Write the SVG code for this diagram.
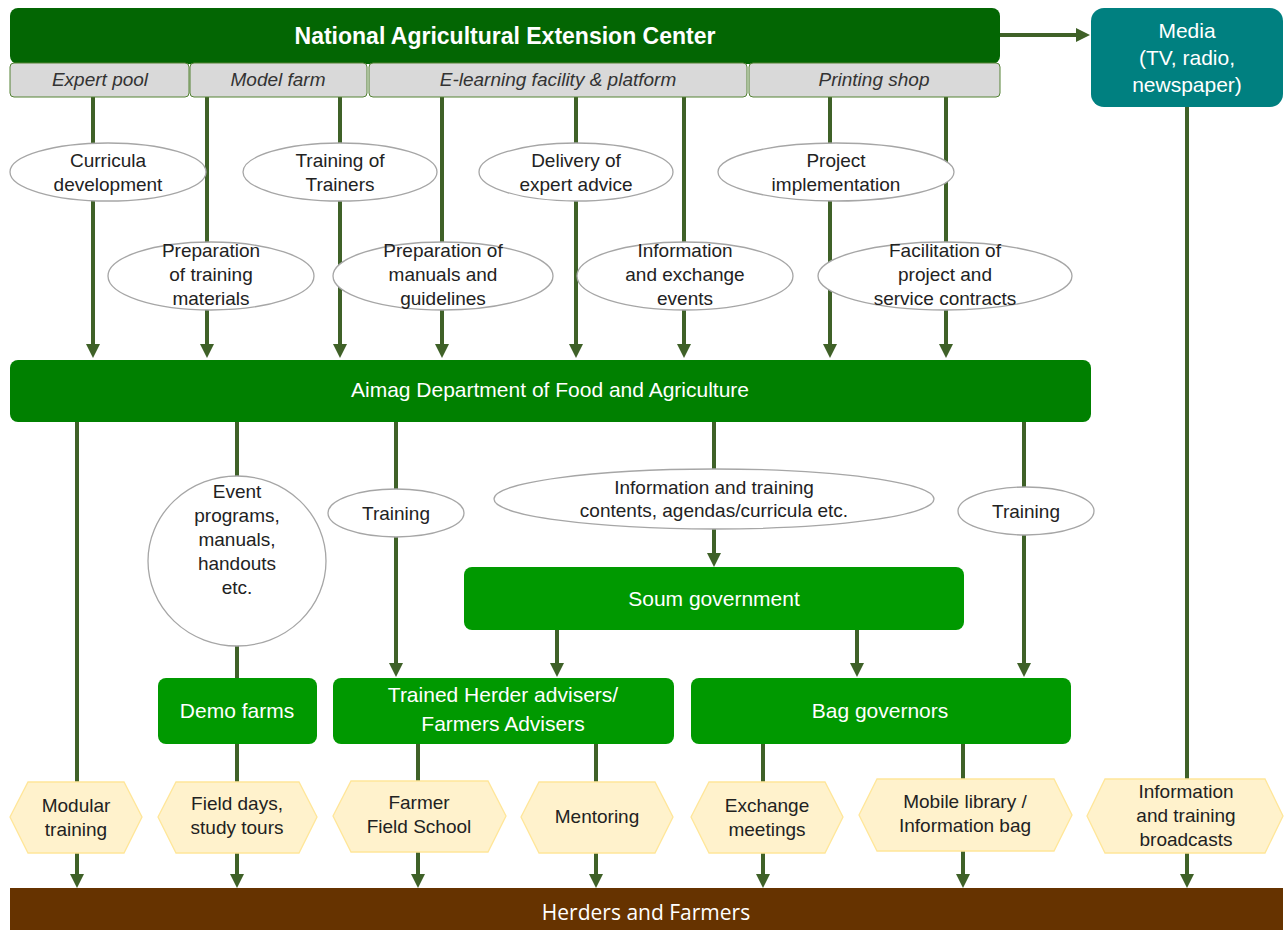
<svg xmlns="http://www.w3.org/2000/svg" width="1288" height="930" viewBox="0 0 1288 930">
<style>
.t{font-family:"Liberation Sans Narrow","Liberation Sans",Arial,sans-serif;text-anchor:middle}
.dk{fill:#222}
.wh{fill:#fff}
.ell{fill:#fff;stroke:#a6a6a6;stroke-width:1.3}
.hex{fill:#fff2cc;stroke:#ffe699;stroke-width:1.3}
.sub{fill:#d9d9d9;stroke:#548235;stroke-width:1}
.con{fill:none;stroke:#3f6128;stroke-width:4}
</style>
<defs>
<marker id="ah" viewBox="0 0 14 14" refX="10" refY="7" markerWidth="14" markerHeight="14" orient="auto" markerUnits="userSpaceOnUse">
<path d="M0,0 L14,7 L0,14 z" fill="#3f6128"/>
</marker>
</defs>
<rect width="1288" height="930" fill="#fff"/>

<g id="connectors">
<path class="con" d="M93,97 V354" marker-end="url(#ah)"/>
<path class="con" d="M207,97 V354" marker-end="url(#ah)"/>
<path class="con" d="M340,97 V354" marker-end="url(#ah)"/>
<path class="con" d="M442,97 V354" marker-end="url(#ah)"/>
<path class="con" d="M576,97 V354" marker-end="url(#ah)"/>
<path class="con" d="M684,97 V354" marker-end="url(#ah)"/>
<path class="con" d="M830,97 V354" marker-end="url(#ah)"/>
<path class="con" d="M946,97 V354" marker-end="url(#ah)"/>
<path class="con" d="M1000,35 H1086" marker-end="url(#ah)"/>
<path class="con" d="M1187,107 V884" marker-end="url(#ah)"/>
<path class="con" d="M77,422 V884" marker-end="url(#ah)"/>
<path class="con" d="M237,422 V678"/>
<path class="con" d="M237,744 V884" marker-end="url(#ah)"/>
<path class="con" d="M396,422 V673" marker-end="url(#ah)"/>
<path class="con" d="M714,422 V563" marker-end="url(#ah)"/>
<path class="con" d="M1024,422 V673" marker-end="url(#ah)"/>
<path class="con" d="M557,630 V673" marker-end="url(#ah)"/>
<path class="con" d="M857,630 V673" marker-end="url(#ah)"/>
<path class="con" d="M418,744 V884" marker-end="url(#ah)"/>
<path class="con" d="M596,744 V884" marker-end="url(#ah)"/>
<path class="con" d="M763,744 V884" marker-end="url(#ah)"/>
<path class="con" d="M963,744 V884" marker-end="url(#ah)"/>
</g>

<g id="naec">
<rect x="10" y="8" width="990" height="56" rx="8" fill="#036603"/>
<text class="t wh" x="505" y="44" font-size="23" font-weight="bold">National Agricultural Extension Center</text>
</g>
<g id="expert-pool">
<rect class="sub" x="10" y="63" width="179" height="34" rx="4"/>
<text class="t" x="100" y="86" font-size="19" font-style="italic" fill="#333">Expert pool</text>
</g>
<g id="model-farm">
<rect class="sub" x="190" y="63" width="177" height="34" rx="4"/>
<text class="t" x="278" y="86" font-size="19" font-style="italic" fill="#333">Model farm</text>
</g>
<g id="elearning">
<rect class="sub" x="369" y="63" width="378" height="34" rx="4"/>
<text class="t" x="558" y="86" font-size="19" font-style="italic" fill="#333">E-learning facility &amp; platform</text>
</g>
<g id="printing-shop">
<rect class="sub" x="749" y="63" width="251" height="34" rx="4"/>
<text class="t" x="874" y="86" font-size="19" font-style="italic" fill="#333">Printing shop</text>
</g>
<g id="media">
<rect x="1091" y="8" width="192" height="99" rx="13" fill="#008080"/>
<text class="t wh" font-size="21"><tspan x="1187" y="38">Media</tspan><tspan x="1187" y="65">(TV, radio,</tspan><tspan x="1187" y="92">newspaper)</tspan></text>
</g>

<g id="curricula">
<ellipse class="ell" cx="108" cy="172" rx="98" ry="29"/>
<text class="t dk" font-size="19"><tspan x="108" y="167">Curricula</tspan><tspan x="108" y="191">development</tspan></text>
</g>
<g id="tot">
<ellipse class="ell" cx="340" cy="172" rx="97" ry="29"/>
<text class="t dk" font-size="19"><tspan x="340" y="167">Training of</tspan><tspan x="340" y="191">Trainers</tspan></text>
</g>
<g id="delivery">
<ellipse class="ell" cx="576" cy="172" rx="97" ry="29"/>
<text class="t dk" font-size="19"><tspan x="576" y="167">Delivery of</tspan><tspan x="576" y="191">expert advice</tspan></text>
</g>
<g id="project-impl">
<ellipse class="ell" cx="836" cy="172" rx="118" ry="29"/>
<text class="t dk" font-size="19"><tspan x="836" y="167">Project</tspan><tspan x="836" y="191">implementation</tspan></text>
</g>
<g id="prep-training">
<ellipse class="ell" cx="211" cy="276" rx="103" ry="34"/>
<text class="t dk" font-size="19"><tspan x="211" y="257">Preparation</tspan><tspan x="211" y="281">of training</tspan><tspan x="211" y="305">materials</tspan></text>
</g>
<g id="prep-manuals">
<ellipse class="ell" cx="443" cy="276" rx="110" ry="34"/>
<text class="t dk" font-size="19"><tspan x="443" y="257">Preparation of</tspan><tspan x="443" y="281">manuals and</tspan><tspan x="443" y="305">guidelines</tspan></text>
</g>
<g id="info-exchange">
<ellipse class="ell" cx="685" cy="276" rx="108" ry="34"/>
<text class="t dk" font-size="19"><tspan x="685" y="257">Information</tspan><tspan x="685" y="281">and exchange</tspan><tspan x="685" y="305">events</tspan></text>
</g>
<g id="facilitation">
<ellipse class="ell" cx="945" cy="276" rx="127" ry="34"/>
<text class="t dk" font-size="19"><tspan x="945" y="257">Facilitation of</tspan><tspan x="945" y="281">project and</tspan><tspan x="945" y="305">service contracts</tspan></text>
</g>

<g id="aimag">
<rect x="10" y="360" width="1081" height="62" rx="8" fill="#008000"/>
<text class="t wh" x="550" y="397" font-size="21">Aimag Department of Food and Agriculture</text>
</g>

<g id="event-programs">
<ellipse class="ell" cx="237" cy="561" rx="89" ry="85"/>
<text class="t dk" font-size="19"><tspan x="237" y="498">Event</tspan><tspan x="237" y="522">programs,</tspan><tspan x="237" y="546">manuals,</tspan><tspan x="237" y="570">handouts</tspan><tspan x="237" y="594">etc.</tspan></text>
</g>
<g id="training-left">
<ellipse class="ell" cx="396" cy="513" rx="68" ry="24"/>
<text class="t dk" x="396" y="520" font-size="19">Training</text>
</g>
<g id="info-contents">
<ellipse class="ell" cx="714" cy="499" rx="220" ry="30"/>
<text class="t dk" font-size="19"><tspan x="714" y="494">Information and training</tspan><tspan x="714" y="517">contents, agendas/curricula etc.</tspan></text>
</g>
<g id="training-right">
<ellipse class="ell" cx="1026" cy="511" rx="68" ry="24"/>
<text class="t dk" x="1026" y="518" font-size="19">Training</text>
</g>

<g id="soum">
<rect x="464" y="567" width="500" height="63" rx="8" fill="#009900"/>
<text class="t wh" x="714" y="606" font-size="21">Soum government</text>
</g>
<g id="demo-farms">
<rect x="158" y="678" width="159" height="66" rx="8" fill="#009900"/>
<text class="t wh" x="237" y="718" font-size="21">Demo farms</text>
</g>
<g id="trained-herder">
<rect x="333" y="678" width="341" height="66" rx="8" fill="#009900"/>
<text class="t wh" font-size="21"><tspan x="503" y="702">Trained Herder advisers/</tspan><tspan x="503" y="731">Farmers Advisers</tspan></text>
</g>
<g id="bag-governors">
<rect x="691" y="678" width="380" height="66" rx="8" fill="#009900"/>
<text class="t wh" x="880" y="718" font-size="21">Bag governors</text>
</g>

<g id="modular">
<polygon class="hex" points="10,817 28,782 124,782 142,817 124,853 28,853"/>
<text class="t dk" font-size="19"><tspan x="76" y="812">Modular</tspan><tspan x="76" y="836">training</tspan></text>
</g>
<g id="field-days">
<polygon class="hex" points="158,817 176,782 299,782 317,817 299,853 176,853"/>
<text class="t dk" font-size="19"><tspan x="237" y="810">Field days,</tspan><tspan x="237" y="834">study tours</tspan></text>
</g>
<g id="ffs">
<polygon class="hex" points="333,816 351,781 488,781 506,816 488,852 351,852"/>
<text class="t dk" font-size="19"><tspan x="419" y="809">Farmer</tspan><tspan x="419" y="833">Field School</tspan></text>
</g>
<g id="mentoring">
<polygon class="hex" points="521,817 539,782 655,782 673,817 655,853 539,853"/>
<text class="t dk" x="597" y="823" font-size="19">Mentoring</text>
</g>
<g id="exchange">
<polygon class="hex" points="691,817 709,782 825,782 843,817 825,853 709,853"/>
<text class="t dk" font-size="19"><tspan x="767" y="812">Exchange</tspan><tspan x="767" y="836">meetings</tspan></text>
</g>
<g id="mobile-library">
<polygon class="hex" points="859,815 877,779 1054,779 1072,815 1054,851 877,851"/>
<text class="t dk" font-size="19"><tspan x="965" y="808">Mobile library /</tspan><tspan x="965" y="832">Information bag</tspan></text>
</g>
<g id="broadcasts">
<polygon class="hex" points="1087,816 1105,779 1265,779 1283,816 1265,853 1105,853"/>
<text class="t dk" font-size="19"><tspan x="1186" y="798">Information</tspan><tspan x="1186" y="822">and training</tspan><tspan x="1186" y="846">broadcasts</tspan></text>
</g>

<g id="herders">
<rect x="10" y="888" width="1273" height="42" fill="#663300"/>
<text x="646" y="920" font-family="'Open Sans','Noto Sans',sans-serif" font-size="21" fill="#fff" text-anchor="middle">Herders and Farmers</text>
</g>
</svg>
